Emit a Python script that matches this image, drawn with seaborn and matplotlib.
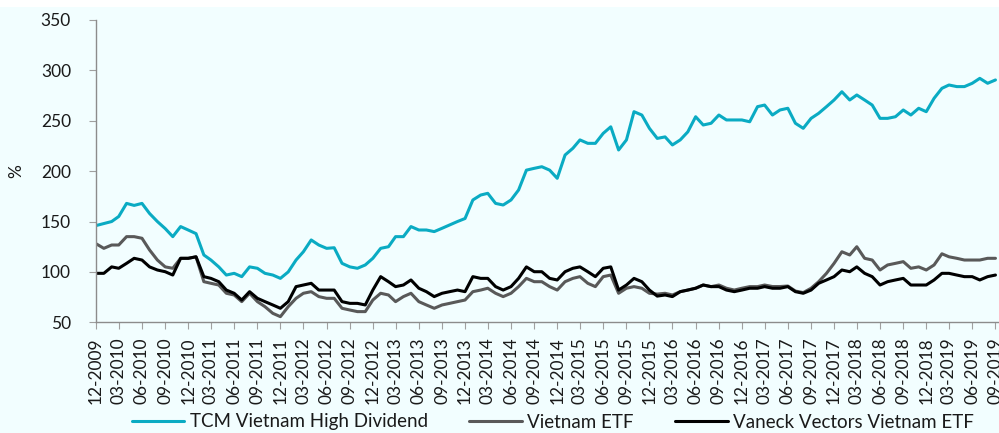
import numpy as np
import pandas as pd
import matplotlib
matplotlib.use("Agg")
import matplotlib.pyplot as plt
import matplotlib.dates as mdates
from matplotlib.patches import Rectangle
import seaborn as sns

# ---- data (monthly readings, Dec 2009 .. Sep 2019) ----
dates = pd.date_range("2009-12-01", periods=118, freq="MS")

tcm_high_dividend = [
    146, 148, 150, 155, 168, 166, 168, 158, 150, 143, 135, 145, 141.6, 138, 116.8, 111.8,
    105, 96.9, 98.6, 95.3, 105, 103.6, 98.6, 96.9, 93.6, 100, 111.8, 120, 131.7, 126.7,
    123.4, 124, 108.5, 105, 103.6, 106.9, 113.5, 123.4, 125, 135, 135, 145, 141.6, 141.6,
    140, 143.3, 146.6, 150, 153, 171.4, 176.3, 178, 168, 166.4, 171.4, 181.3, 201, 202.8,
    204.4, 201, 192.9, 216, 222.7, 231, 227.6, 227.6, 237.5, 244, 221, 231, 259, 255.7,
    242.5, 232.5, 234, 226, 231, 239, 254, 245.8, 247.5, 255.7, 250.8, 250.8, 250.8, 249,
    264, 265.6, 255.7, 260.7, 262.4, 247.5, 242.5, 252.4, 257.4, 264, 270.6, 278.8, 270.6,
    275.6, 270.6, 265.6, 252.4, 252.4, 254, 260.7, 255.7, 262.4, 259, 272.3, 282.2, 285.5,
    283.9, 283.9, 287.2, 292.1, 287.2, 290.5,
]

vietnam_etf = [
    128, 123.4, 126.7, 126.7, 135, 135, 133.4, 121.8, 111.8, 105, 103.6, 113.5, 113.5, 115,
    90.3, 88.7, 87, 78.8, 77.1, 70.5, 78.8, 70.5, 65.5, 58.9, 55.6, 65.5, 73.8, 78.8, 80.4,
    75.5, 73.8, 73.8, 63.9, 62.2, 60.6, 60.6, 72.1, 78.8, 77.1, 70.5, 75.5, 78.8, 70.5, 67.2,
    63.9, 67.2, 68.8, 70.5, 72.1, 80.4, 82, 83.8, 78.8, 75.5, 78.8, 85.4, 93.6, 90.3, 90.3,
    85.4, 82, 90.3, 93.6, 95.3, 88.7, 85.4, 95.3, 96.9, 78.8, 83.8, 85.4, 83.8, 78.8, 78,
    78.8, 77.1, 80.4, 82, 83.8, 87, 85.4, 87, 83.8, 82, 83.8, 85.4, 85.4, 87, 85.5, 85.5,
    86, 81, 79.5, 83.8, 90.3, 98.6, 108.5, 120, 116.8, 125, 113.5, 111.8, 101.9, 106.9,
    108.5, 110.2, 103.6, 105, 101.9, 106.9, 118, 115, 113.5, 111.8, 111.8, 111.8, 113.5, 113.5,
]

vaneck_vietnam_etf = [
    98.6, 98.6, 105, 103.6, 108.5, 113.5, 111.8, 105, 101.9, 100.2, 96.9, 113.5, 113.5, 115,
    95.3, 93.6, 90.3, 82, 78.8, 72.1, 80.4, 73.8, 70.5, 67.2, 63.9, 70.5, 85.4, 87, 88.7,
    82, 82, 82, 70.5, 68.8, 68.8, 67.2, 82, 95.3, 90.3, 85.4, 87, 92, 83.8, 80.4, 75.5, 78.8,
    80.4, 82, 80.4, 95.3, 93.6, 93.6, 85.4, 82, 85.4, 93.6, 105, 100.2, 100.2, 93.6, 92,
    100.2, 103.6, 105, 100.2, 95.3, 103.6, 105, 82, 87, 93.6, 90.3, 82, 76, 77.1, 75.5, 80.4,
    82, 83.8, 87, 85.4, 85.4, 82, 80.4, 82, 83.8, 83.8, 85.4, 83.8, 83.8, 85.4, 80.4, 78.8,
    82, 88.7, 92, 95.3, 101.9, 100.2, 105, 98.6, 95.3, 87, 90.3, 92, 93.6, 87, 87, 87, 92,
    98.6, 98.6, 96.9, 95.3, 95.3, 92, 95.3, 96.9,
]

series_names = ["TCM Vietnam High Dividend", "Vietnam ETF", "Vaneck Vectors Vietnam ETF"]
series_colors = ["#0AABC3", "#595959", "#000000"]

df = pd.concat([
    pd.DataFrame({"date": dates, "value": vals, "series": name})
    for name, vals in zip(series_names, [tcm_high_dividend, vietnam_etf, vaneck_vietnam_etf])
], ignore_index=True)

# ---- style ----
sns.set_style("ticks")
plt.rcParams["font.family"] = ["Lato", "DejaVu Sans"]
bg = "#F2FEFF"

fig = plt.figure(figsize=(9.99, 4.33), dpi=100, facecolor=bg)
fig.patches.append(Rectangle((0, (433 - 7) / 433), 1, 7 / 433, transform=fig.transFigure,
                             facecolor="white", edgecolor="none", zorder=0))
ax = fig.add_axes([96 / 999, (433 - 322.3) / 433, 903 / 999, 302.3 / 433])
ax.set_facecolor(bg)

sns.lineplot(data=df, x="date", y="value", hue="series", hue_order=series_names,
             palette=dict(zip(series_names, series_colors)), linewidth=2.2, ax=ax)

handles, labels = ax.get_legend_handles_labels()
ax.get_legend().remove()
for h in handles:
    h.set_linewidth(2.2)

ax.set_ylim(50, 350)
ax.set_yticks(range(50, 351, 50))
ax.set_xlim(pd.Timestamp("2009-12-01"), pd.Timestamp("2019-09-15"))
ax.xaxis.set_major_locator(mdates.MonthLocator(bymonth=[3, 6, 9, 12], bymonthday=1))
ax.xaxis.set_major_formatter(mdates.DateFormatter("%m-%Y"))

for side in ["top", "right"]:
    ax.spines[side].set_visible(False)
for side in ["left", "bottom"]:
    ax.spines[side].set_color("#8C8C8C")
    ax.spines[side].set_linewidth(1.0)

ax.tick_params(axis="x", length=5, color="#A0A0A0", labelsize=12.5, pad=6,
               labelrotation=90, labelcolor="#1A1A1A")
ax.tick_params(axis="y", length=5, color="#A0A0A0", labelsize=12.5, pad=13,
               labelcolor="#1A1A1A")

ax.set_xlabel("")
ax.set_ylabel("%", fontsize=12.5, color="#1A1A1A")
ax.yaxis.set_label_coords(-0.080, 0.5)

fig.legend(handles, labels, loc="center", bbox_to_anchor=(553 / 999, 11 / 433), ncol=3,
           frameon=False, fontsize=13.5, handlelength=2.8, handletextpad=0.3,
           columnspacing=2.2, labelcolor="#1A1A1A")

fig.savefig("out.png", dpi=100, facecolor=bg)
